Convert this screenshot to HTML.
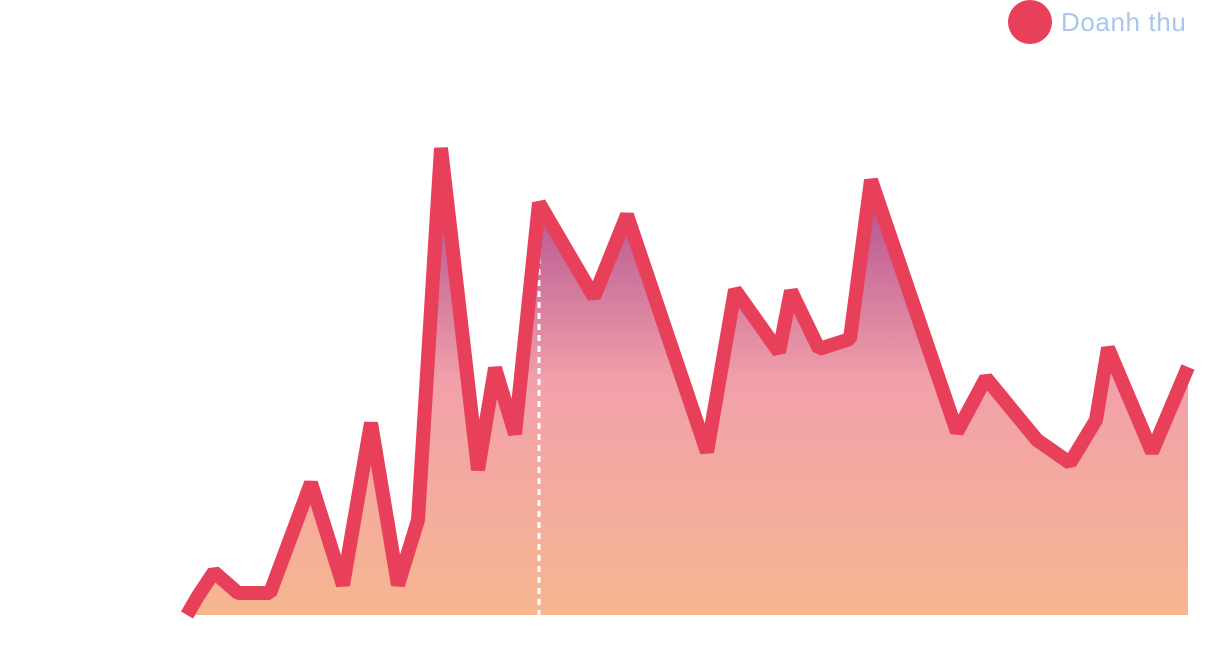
<!DOCTYPE html>
<html><head><meta charset="utf-8"><style>
html,body{margin:0;padding:0;background:#fff;width:1216px;height:666px;overflow:hidden;font-family:"Liberation Sans",sans-serif}
</style></head><body>
<svg id="chart" width="1216" height="666" viewBox="0 0 1216 666" xmlns="http://www.w3.org/2000/svg">
<defs>
<linearGradient id="fillGrad" gradientUnits="userSpaceOnUse" x1="0" y1="190" x2="0" y2="615">
<stop offset="0" stop-color="#b0508e"/>
<stop offset="0.45" stop-color="#f2a0aa"/>
<stop offset="1" stop-color="#f6b690"/>
</linearGradient>
</defs>
<g>
<circle cx="1030" cy="22" r="22" fill="#e8405a"/>
<text x="1061" y="31" font-size="26" letter-spacing="0.6" fill="#a9c6ec">Doanh thu</text>
</g>
<g id="plot"></g>
</svg>
<script>
const xVals = [0,11,27,51,83,124,156,184,211,231,254,291,308,328,352,407,440,520,548,592,604,632,663,684,770,799,850,883,909,921,965,1001];
const revenue = [0,19,43,22,22,132,30,192,30,95,467,145,247,181,412,318,400,163,325,263,324,266,276,435,183,237,175,152,195,267,163,248];
const hoverIndex = 14;
const sx = v => 187 + v*(1188-187)/1001;
const sy = v => 615 - v*(615-148)/467;
const plot = document.getElementById('plot');
const NS='http://www.w3.org/2000/svg';
const pts = xVals.map((x,i)=>[sx(x),sy(revenue[i])]);
const area = document.createElementNS(NS,'path');
area.setAttribute('d','M'+sx(xVals[0])+','+sy(0)+' '+pts.map(p=>'L'+p[0]+','+p[1]).join(' ')+' L'+sx(xVals[xVals.length-1])+','+sy(0)+' Z');
area.setAttribute('fill','url(#fillGrad)');


plot.appendChild(area);
const hl = document.createElementNS(NS,'line');
hl.setAttribute('x1',sx(xVals[hoverIndex]));hl.setAttribute('x2',sx(xVals[hoverIndex]));
hl.setAttribute('y1',sy(revenue[hoverIndex]));hl.setAttribute('y2',sy(0));
hl.setAttribute('stroke','#fff');hl.setAttribute('stroke-width','3');hl.setAttribute('stroke-dasharray','6,5');


plot.appendChild(hl);
const line = document.createElementNS(NS,'polyline');
line.setAttribute('points',pts.map(p=>p.join(',')).join(' '));
line.setAttribute('fill','none');line.setAttribute('stroke','#e8405a');line.setAttribute('stroke-width','14');
line.setAttribute('stroke-linejoin','bevel');


plot.appendChild(line);
</script>
</body></html>
